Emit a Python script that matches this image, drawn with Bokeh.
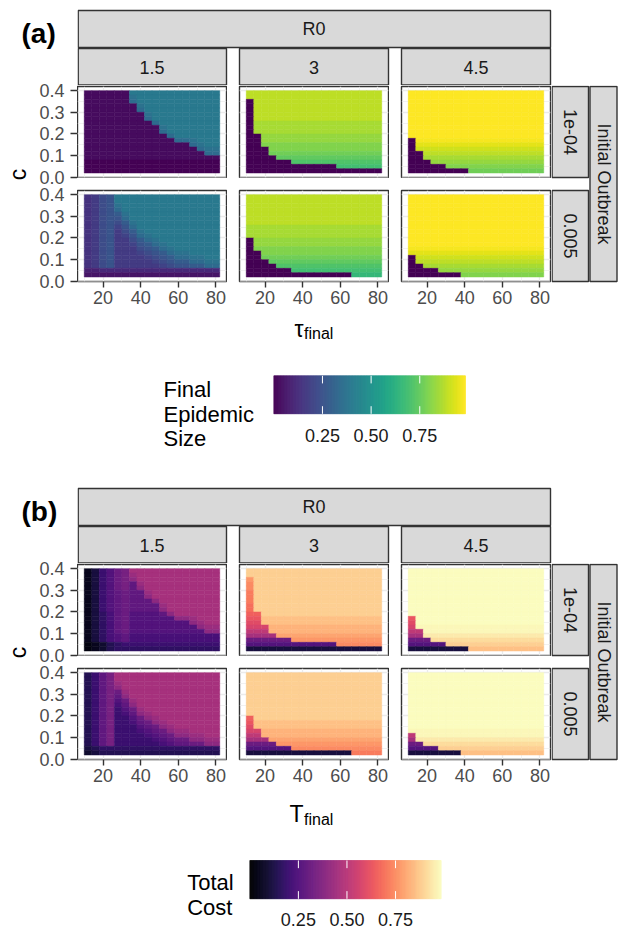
import math
from bokeh.plotting import figure
from bokeh.layouts import row, column
from bokeh.models import Range1d, FixedTicker, Spacer, LinearColorMapper, ColumnDataSource
from bokeh.palettes import Viridis256, Magma256
from bokeh.embed import file_html
from bokeh.resources import INLINE
from bokeh.core.properties import value

FONT = "Liberation Sans"

# ---------------- data ----------------
tau_final = [12, 16, 20, 24, 28, 32, 36, 40, 44, 48, 52, 56, 60, 64, 68, 72, 76, 80]
c_rows = [0.39, 0.37, 0.35, 0.33, 0.31, 0.29, 0.27, 0.25, 0.23, 0.21,
          0.19, 0.17, 0.15, 0.13, 0.11, 0.09, 0.07, 0.05, 0.03]   # top -> bottom
R0_labels = ["1.5", "3", "4.5"]
outbreak_labels = ["1e-04", "0.005"]
x_ticks = [20, 40, 60, 80]
x_minor = [10, 30, 50, 70]
y_ticks = [0.0, 0.1, 0.2, 0.3, 0.4]
y_tick_labels = ["0.0", "0.1", "0.2", "0.3", "0.4"]
y_minor = [0.05, 0.15, 0.25, 0.35]
legend_ticks = [0.25, 0.50, 0.75]
legend_tick_labels = ["0.25", "0.50", "0.75"]
# each character is a value level: LEVELS.index(ch) / 35
LEVELS = "0123456789ABCDEFGHIJKLMNOPQRSTUVWXYZ"

size_15_1e04 = [
    "111111EEEEEEEEEEEE", "111111DEEEEEEEEEEE", "111111CEEEEEEEEEEE",
    "1111111DEEEEEEEEEE", "1111111CEEEEEEEEEE", "11111111DEEEEEEEEE",
    "11111111CEEEEEEEEE", "111111111CEEEEEEEE", "1111111111DEEEEEEE",
    "1111111111CEEEEEEE", "11111111111CEEEEEE", "111111111111CCDEEE",
    "11111111111111CDEE", "111111111111111CDD", "1111111111111111CC",
    "111111111111111111", "000000000000000000", "000000000000000000",
    "000000000000000000"]
size_3_1e04 = [
    "VVVVVVVVVVVVVVVVVV", "VVVVVVVVVVVVVVVVVV", "0VVVVVVVVVVVVVVVVV",
    "0VVVVVVVVVVVVVVVVV", "0VVVVVVVVVVVVVVVVV", "0VVVVVVVVVVVVVVVVV",
    "0VVVVVVVVVVVVVVVVV", "0UUUUUUUUUUUUUUUUU", "0UUUUUUUUUUUUUUUUU",
    "0UUUUUUUUUUUUUUUUU", "00TTTTTTTTTTTTTTTT", "00TTTTTTTTTTTTTTTT",
    "00SSSSSSSSSSSSSSSS", "000SSSSSSSSSSSSSSS", "000RRRRRRRRRRRRRRR",
    "0000QQQQQQQQQQQQQQ", "000000PPPPPPPPPPPP", "000000000000OOOOOO",
    "000000000000000000"]
size_45_1e04 = ["ZZZZZZZZZZZZZZZZZZ"] * 11 + [
    "0YYYYYYYYYYYYYYYYY", "0XXXXXXXXXXXXXXXXX", "0WWWWWWWWWWWWWWWWW",
    "00VVVVVVVVVVVVVVVV", "00UUUUUUUUUUUUUUUU", "000TTTTTTTTTTTTTTT",
    "00000SSSSSSSSSSSSS", "00000000RRRRRRRRRR"]
size_15_0005 = [
    "5689EEEEEEEEEEEEEE", "5689EEEEEEEEEEEEEE", "5689DEEEEEEEEEEEEE",
    "5689CEEEEEEEEEEEEE", "5689ADEEEEEEEEEEEE", "56899CEEEEEEEEEEEE",
    "56898ADEEEEEEEEEEE", "568979CEEEEEEEEEEE", "568968ADEEEEEEEEEE",
    "5689679CDEEEEEEEEE", "5689668ACDEEEEEEEE", "56896679ACDEEEEEEE",
    "568966689ACDEEEEEE", "5689666789ACDDEEEE", "56896666789ACCDDEE",
    "568966666789AACCDD", "56896666667899AACC", "334444444444444444",
    "222222222222222222"]
size_3_0005 = ["VVVVVVVVVVVVVVVVVV"] * 7 + ["UUUUUUUUUUUUUUUUUU"] * 3 + [
    "0TTTTTTTTTTTTTTTTT", "0TTTTTTTTTTTTTTTTT", "0SSSSSSSSSSSSSSSSS",
    "00SSSSSSSSSSSSSSSS", "00RRRRRRRRRRRRRRRR", "000QQQQQQQQQQQQQQQ",
    "0000PPPPPPPPPPPPPP", "000000OOOOOOOOOOOO", "00000000000000NNNN"]
size_45_0005 = ["ZZZZZZZZZZZZZZZZZZ"] * 12 + [
    "YYYYYYYYYYYYYYYYYY", "XXXXXXXXXXXXXXXXXX", "0WWWWWWWWWWWWWWWWW",
    "0VVVVVVVVVVVVVVVVV", "00UUUUUUUUUUUUUUUU", "0000TTTTTTTTTTTTTT",
    "0000000SSSSSSSSSSS"]

cost_15_1e04 = [
    "2479BCGGGGGGGGGGGG", "2479BCFGGGGGGGGGGG", "2479BCEGGGGGGGGGGG",
    "2479BCAFGGGGGGGGGG", "2479BCAEGGGGGGGGGG", "2479ABAAFGGGGGGGGG",
    "2479ABAAEGGGGGGGGG", "2479ABAAAEGGGGGGGG", "2479ABAAAAFGGGGGGG",
    "2479ABAAAAEGGGGGGG", "2468AB9999AEGGGGGG", "2468AB999999EEFGGG",
    "2468AB99999999EFGG", "2468AB999999999EFF", "2468AB9999999999EE",
    "24689A888888888888", "24689A888888888888", "123567777777777777",
    "123566666666666666"]
cost_3_1e04 = [
    "VVVVVVVVVVVVVVVVVV", "VVVVVVVVVVVVVVVVVV", "RVVVVVVVVVVVVVVVVV",
    "QVVVVVVVVVVVVVVVVV", "QVVVVVVVVVVVVVVVVV", "PVVVVVVVVVVVVVVVVV",
    "PVVVVVVVVVVVVVVVVV", "PVVVVVVVVVVVVVVVVV", "OVVVVVVVVVVVVVVVVV",
    "OVVVVVVVVVVVVVVVVV", "NNVVVVVVVVVVVVVVVV", "MMUUUUUUUUUUUUUUUU",
    "LLUUUUUUUUUUUUUUUU", "KKKTTTTTTTTTTTTTTT", "IIITTTTTTTTTTTTTTT",
    "GGGGSSSSSSSSSSSSSS", "BBBBBBRRRRRRRRRRRR", "999999999999QQQQQQ",
    "444444444444444444"]
cost_45_1e04 = ["ZZZZZZZZZZZZZZZZZZ"] * 11 + [
    "MZZZZZZZZZZZZZZZZZ", "LZZZZZZZZZZZZZZZZZ", "KYYYYYYYYYYYYYYYYY",
    "IIYYYYYYYYYYYYYYYY", "GGXXXXXXXXXXXXXXXX", "BBBWWWWWWWWWWWWWWW",
    "99999VVVVVVVVVVVVV", "44444444UUUUUUUUUU"]
cost_15_0005 = [
    "57ACGGGGGGGGGGGGGG", "57ACGGGGGGGGGGGGGG", "57ACFGGGGGGGGGGGGG",
    "57ACEGGGGGGGGGGGGG", "57ACBFGGGGGGGGGGGG", "57ACAEGGGGGGGGGGGG",
    "57AC9BFGGGGGGGGGGG", "57AC8AEGGGGGGGGGGG", "57AC79BFGGGGGGGGGG",
    "57AC78AEFGGGGGGGGG", "57AC779BEFGGGGGGGG", "57AC778ABEFGGGGGGG",
    "57AC7779ABEFGGGGGG", "57AC77789ABEFFGGGG", "57AC777789ABEEFFGG",
    "57AC7777789ABBEEFF", "57AC77777789AABBEE", "456666666666666666",
    "345555555555555555"]
cost_3_0005 = ["VVVVVVVVVVVVVVVVVV"] * 10 + [
    "NVVVVVVVVVVVVVVVVV", "MUUUUUUUUUUUUUUUUU", "LUUUUUUUUUUUUUUUUU",
    "KKTTTTTTTTTTTTTTTT", "IITTTTTTTTTTTTTTTT", "GGGSSSSSSSSSSSSSSS",
    "BBBBRRRRRRRRRRRRRR", "999999QQQQQQQQQQQQ", "44444444444444PPPP"]
cost_45_0005 = ["ZZZZZZZZZZZZZZZZZZ"] * 13 + [
    "YYYYYYYYYYYYYYYYYY", "IYYYYYYYYYYYYYYYYY", "GXXXXXXXXXXXXXXXXX",
    "BBWWWWWWWWWWWWWWWW", "9999VVVVVVVVVVVVVV", "4444444UUUUUUUUUUU"]

size_panels = [[size_15_1e04, size_3_1e04, size_45_1e04],
               [size_15_0005, size_3_0005, size_45_0005]]
cost_panels = [[cost_15_1e04, cost_3_1e04, cost_45_1e04],
               [cost_15_0005, cost_3_0005, cost_45_0005]]

# ---------------- style ----------------
STRIP_FILL = "#d9d9d9"
DARK = "#333333"
GRID = "#ebebeb"
TICK_COLOR = "#4d4d4d"
TILE_W, TILE_H = 4, 0.02
X_RANGE = (6.4, 85.6)
Y_RANGE = (-0.0008, 0.4192)
FRAME_H = 91
ROW_GAP_PX = 13
VMAX = 0.985
TXT = "18px"
TITLE = "23px"


def decode(rows):
    xs, ys, vs = [], [], []
    for cv, s in zip(c_rows, rows):
        for t, ch in zip(tau_final, s):
            xs.append(t)
            ys.append(cv)
            vs.append(LEVELS.index(ch) / (len(LEVELS) - 1))
    return ColumnDataSource(dict(x=xs, y=ys, v=vs))


def canvas(x0, x1, y0, y1):
    p = figure(width=int(round(x1 - x0)), height=int(round(y1 - y0)),
               x_range=Range1d(x0, x1), y_range=Range1d(y1, y0),
               toolbar_location=None, output_backend="svg", title=None,
               x_axis_location=None, y_axis_location=None,
               min_border_left=0, min_border_right=0, min_border_top=0, min_border_bottom=0)
    p.xgrid.visible = False
    p.ygrid.visible = False
    p.outline_line_color = None
    p.background_fill_color = "white"
    p.border_fill_color = "white"
    return p


def add_text(p, x, y, txt, size, color="#1a1a1a", align="center", baseline="middle",
             angle=0.0, style="normal"):
    p.text(x=[x], y=[y], text=[txt], text_font=value(FONT), text_font_size=size,
           text_color=color, text_align=align, text_baseline=baseline, angle=angle,
           text_font_style=style)


def style_axis(ax):
    ax.axis_line_color = None
    ax.major_tick_out = 6
    ax.major_tick_in = 0
    ax.minor_tick_line_color = None
    ax.major_tick_line_color = DARK
    ax.major_tick_line_width = 1.4
    ax.major_label_text_font = FONT
    ax.major_label_text_font_size = TXT
    ax.major_label_text_color = TICK_COLOR


def make_panel(rows, mapper, first_col, bottom):
    mbl = 0 if first_col else 1
    mbb = 31 if bottom else 1
    p = figure(width=149 + mbl + 1, height=FRAME_H + 1 + mbb,
               x_range=Range1d(*X_RANGE), y_range=Range1d(*Y_RANGE),
               x_axis_location="below" if bottom else None, y_axis_location=None,
               toolbar_location=None, output_backend="svg", title=None,
               min_border_left=mbl, min_border_right=1, min_border_top=1, min_border_bottom=mbb)
    p.background_fill_color = "white"
    p.border_fill_color = "white"
    p.outline_line_color = DARK
    p.outline_line_width = 1.4
    p.xgrid.ticker = FixedTicker(ticks=x_ticks, minor_ticks=x_minor)
    p.ygrid.ticker = FixedTicker(ticks=y_ticks, minor_ticks=y_minor)
    for g in (p.xgrid, p.ygrid):
        g.grid_line_color = GRID
        g.grid_line_width = 1.3
        g.minor_grid_line_color = GRID
        g.minor_grid_line_width = 0.7
    src = decode(rows)
    p.rect(x="x", y="y", width=TILE_W, height=TILE_H, source=src,
           fill_color={"field": "v", "transform": mapper},
           line_color={"field": "v", "transform": mapper}, line_width=0.5)
    if bottom:
        p.xaxis.ticker = FixedTicker(ticks=x_ticks)
        p.xaxis.major_label_standoff = 3
        style_axis(p.xaxis[0])
    return p


def y_axis_fig(y0):
    # one shared y axis for the two facet rows; the upper row is the lower one shifted by the row pitch
    span = Y_RANGE[1] - Y_RANGE[0]
    pitch = span * (FRAME_H + ROW_GAP_PX) / FRAME_H
    end = Y_RANGE[0] + span * (2 * FRAME_H + ROW_GAP_PX) / FRAME_H
    ticks = list(y_ticks) + [t + pitch for t in y_ticks]
    labels = list(y_tick_labels) * 2
    p = figure(width=47, height=234, x_range=Range1d(0, 1), y_range=Range1d(Y_RANGE[0], end),
               x_axis_location=None, y_axis_location="left",
               toolbar_location=None, output_backend="svg", title=None,
               min_border_left=46, min_border_right=0, min_border_top=8, min_border_bottom=31)
    p.xgrid.visible = False
    p.ygrid.visible = False
    p.outline_line_color = None
    p.background_fill_color = "white"
    p.border_fill_color = "white"
    ax = p.yaxis[0]
    ax.ticker = FixedTicker(ticks=ticks)
    ax.major_label_overrides = {t: lab for t, lab in zip(ticks, labels)}
    style_axis(ax)
    ax.major_tick_in = 1
    ax.major_label_standoff = 6
    return p


def legend_fig(y0, y1, bar_l, bar_r, bar_t, bar_b, palette, title_lines, title_x,
               title_ys, title_size, label_y):
    scale = (bar_r - bar_l) / VMAX

    def v(px):
        return (px - bar_l) / scale
    p = figure(width=618, height=int(round(y1 - y0)),
               x_range=Range1d(v(0), v(618)), y_range=Range1d(y1, y0),
               toolbar_location=None, output_backend="svg", title=None,
               x_axis_location=None, y_axis_location=None,
               min_border_left=0, min_border_right=0, min_border_top=0, min_border_bottom=0)
    p.xgrid.visible = False
    p.ygrid.visible = False
    p.outline_line_color = None
    n = len(palette)
    edges = [VMAX * i / n for i in range(n + 1)]
    p.quad(left=edges[:-1], right=edges[1:], top=bar_t, bottom=bar_b,
           fill_color=list(palette), line_color=list(palette), line_width=0.6)
    h = (bar_b - bar_t) / 5.0
    p.segment(x0=legend_ticks, y0=[bar_t] * 3, x1=legend_ticks, y1=[bar_t + h] * 3,
              line_color="white", line_width=1)
    p.segment(x0=legend_ticks, y0=[bar_b - h] * 3, x1=legend_ticks, y1=[bar_b] * 3,
              line_color="white", line_width=1)
    p.text(x=legend_ticks, y=[label_y] * 3, text=legend_tick_labels, text_font=value(FONT),
           text_font_size=TXT, text_color="#1a1a1a", text_align="center",
           text_baseline="middle")
    for line, ty in zip(title_lines, title_ys):
        add_text(p, v(title_x), ty, line, title_size, color="black", align="left")
    return p


def block(letter, y0, panels, palette, xt_main, xt_base, xt_sub_base, leg_h, leg):
    mapper = LinearColorMapper(palette=palette, low=0.0, high=VMAX)
    # left column: letter, y title, shared y axis
    lfig = canvas(0, 77, y0, y0 + 78)
    add_text(lfig, 21, y0 + 33, letter, "28px", color="black", align="left",
             baseline="alphabetic", style="bold")
    cfig = canvas(0, 30, y0 + 78, y0 + 312)
    add_text(cfig, 17, y0 + 183.5, "c", TITLE, color="black", angle=math.pi / 2)
    left_col = column(lfig, row(cfig, y_axis_fig(y0)))
    # strips on top
    b1 = canvas(77, 618, y0, y0 + 85)
    b1.quad(left=[77.7], right=[550], top=[y0 + 10], bottom=[y0 + 47],
            fill_color=STRIP_FILL, line_color=DARK, line_width=1.4)
    lefts = [77.7, 239, 401]
    rights = [226, 388, 550]
    b1.quad(left=lefts, right=rights, top=[y0 + 48] * 3, bottom=[y0 + 84.5] * 3,
            fill_color=STRIP_FILL, line_color=DARK, line_width=1.4)
    add_text(b1, 313.5, y0 + 28.8, "R0", TXT)
    for l, r, lab in zip([77, 239, 401], rights, R0_labels):
        add_text(b1, (l + r) / 2, y0 + 66.5, lab, TXT)
    # right-hand strips
    sfig = canvas(551, 618, y0 + 85, y0 + 312)
    sfig.quad(left=[551.6, 551.6], right=[588, 588], top=[y0 + 86, y0 + 190],
              bottom=[y0 + 177, y0 + 281], fill_color=STRIP_FILL, line_color=DARK, line_width=1.4)
    sfig.quad(left=[589.5], right=[616.5], top=[y0 + 86], bottom=[y0 + 281],
              fill_color=STRIP_FILL, line_color=DARK, line_width=1.4)
    add_text(sfig, 569.8, y0 + 131.5, outbreak_labels[0], TXT, angle=-math.pi / 2)
    add_text(sfig, 569.8, y0 + 235.5, outbreak_labels[1], TXT, angle=-math.pi / 2)
    add_text(sfig, 603, y0 + 183.5, "Initial Outbreak", TXT, angle=-math.pi / 2)
    cols = []
    for j in range(3):
        top = make_panel(panels[0][j], mapper, first_col=(j == 0), bottom=False)
        bot = make_panel(panels[1][j], mapper, first_col=(j == 0), bottom=True)
        cols.append(column(top, Spacer(width=top.width, height=11), bot))
    b2 = row(cols[0], Spacer(width=11, height=227), cols[1],
             Spacer(width=11, height=227), cols[2], sfig)
    right_col = column(b1, b2)
    top_part = row(left_col, right_col)
    # x title
    b3 = canvas(0, 618, y0 + 312, y0 + 352)
    add_text(b3, 303, xt_base, xt_main, TITLE, color="black", align="right",
             baseline="alphabetic")
    add_text(b3, 303.5, xt_sub_base, "final", "16px", color="black", align="left",
             baseline="alphabetic")
    # legend
    b4 = legend_fig(y0 + 352, y0 + 352 + leg_h, leg["bar_l"], leg["bar_r"], leg["bar_t"],
                    leg["bar_b"], palette, leg["lines"], leg["title_x"], leg["title_ys"],
                    leg["title_size"], leg["label_y"])
    return column(top_part, b3, b4)


block_a = block("(a)", 0, size_panels, Viridis256, "\u03c4", 328.5, 332.5, 126,
                dict(bar_l=273.3, bar_r=465, bar_t=375.3, bar_b=413.3,
                     lines=["Final", "Epidemic", "Size"], title_x=163,
                     title_ys=[389, 414, 438], title_size="22px", label_y=435))
block_b = block("(b)", 478, cost_panels, Magma256, "T", 813.5, 818.5, 99,
                dict(bar_l=249.3, bar_r=440.7, bar_t=860, bar_b=898.3,
                     lines=["Total", "Cost"], title_x=186.7,
                     title_ys=[882, 907], title_size="22px", label_y=918.5))

page = column(block_a, block_b)
open("out.html", "w").write(file_html(page, INLINE))
